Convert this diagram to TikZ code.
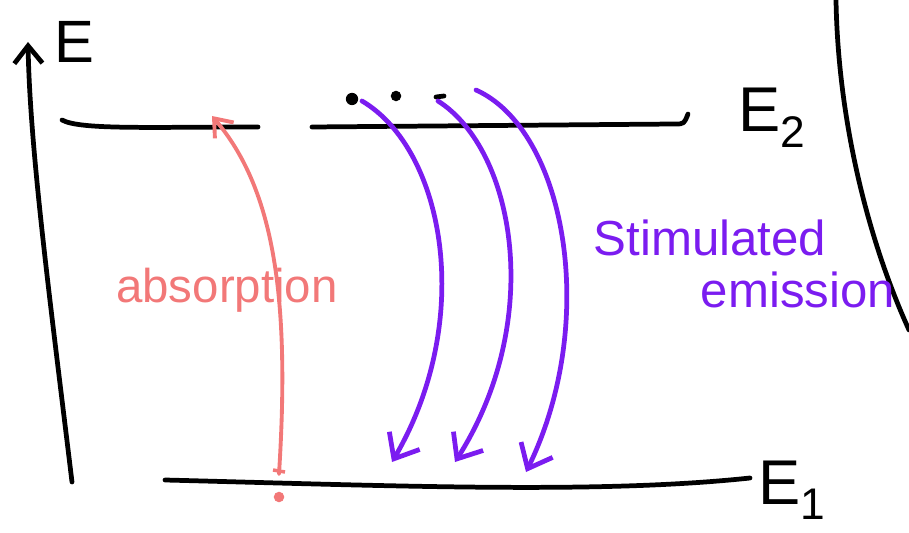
\documentclass[tikz,border=0pt]{standalone}
\usepackage{fontspec}
\setmainfont{Liberation Sans}
\usetikzlibrary{arrows.meta}
\definecolor{absred}{RGB}{242,120,120}
\definecolor{stimpurple}{RGB}{123,28,240}
\tikzset{
  ink/.style={line width=2.7pt, line cap=round, line join=round},
  level/.style={ink, black},
  redarrow/.style={ink, absred, line width=2.2pt, -{Straight Barb[length=9pt,width=14pt,line width=2.2pt]}},
  purplearrow/.style={ink, stimpurple, -{Straight Barb[length=12pt,width=20pt,line width=2.7pt]}},
  lbl/.style={inner sep=0pt}
}
\begin{document}
\begin{tikzpicture}[x=0.02cm,y=-0.02cm]
\useasboundingbox (0,0) rectangle (909,533);
% energy axis
\coordinate (axbot) at (72,482);
\coordinate (axtop) at (28,42);
\draw[level, -{Straight Barb[length=10pt,width=16pt,line width=2.7pt]}] (axbot) .. controls (50,300) and (30,150) .. (axtop);
\node[lbl, font=\fontsize{34}{36}\selectfont] (E) at (74,42) {E};
% E2 level
\coordinate (e2a) at (62,120);
\coordinate (e2b) at (258,127);
\coordinate (e2c) at (312,127);
\coordinate (e2d) at (688,114);
\draw[level] (e2a) .. controls (80,130) and (150,127) .. (e2b);
\draw[level] (e2c) -- (675,124) .. controls (684,124) .. (e2d);
\node[lbl, font=\fontsize{36}{38}\selectfont] (E2) at (772,118) {E$_{\mathrm{2}}$};
% E1 level
\coordinate (e1a) at (165,480);
\coordinate (e1b) at (750,478);
\draw[level] (e1a) .. controls (400,486) and (600,494) .. (e1b);
\node[lbl, font=\fontsize{36}{38}\selectfont] (E1) at (792,490) {E$_{\mathrm{1}}$};
% right boundary curve
\coordinate (bt) at (836,0);
\coordinate (bb) at (909,330);
\draw[level] (bt) .. controls (838,120) and (868,240) .. (bb);
% electrons (dots)
\node[lbl, circle, fill=black, minimum size=7pt] (d1) at (352,99) {};
\node[lbl, circle, fill=black, minimum size=6pt] (d2) at (396,96) {};
\draw[level] (436,97) -- (444,96);
% absorption
\coordinate (abot) at (279,474);
\coordinate (atop) at (212,116);
\draw[redarrow] (abot) .. controls (290,300) and (275,190) .. (atop);
\draw[absred, line width=2pt] (273,470) -- (285,472);
\node[lbl, circle, fill=absred, minimum size=6pt] (adot) at (279,497) {};
\node[lbl, absred, font=\fontsize{27}{29}\selectfont] (abs) at (227,290) {absorption};
% stimulated emission
\coordinate (s1a) at (362,101);
\coordinate (s1b) at (392,462);
\coordinate (s2a) at (438,101);
\coordinate (s2b) at (455,462);
\coordinate (s3a) at (476,90);
\coordinate (s3b) at (526,472);
\draw[purplearrow] (s1a) .. controls (445,150) and (475,320) .. (s1b);
\draw[purplearrow] (s2a) .. controls (515,150) and (545,320) .. (s2b);
\draw[purplearrow] (s3a) .. controls (565,130) and (600,320) .. (s3b);
\node[lbl, stimpurple, font=\fontsize{28}{30}\selectfont] (stim) at (710,238) {Stimulated};
\node[lbl, stimpurple, font=\fontsize{28}{30}\selectfont] (emis) at (798,290) {emission};
\end{tikzpicture}
\end{document}
